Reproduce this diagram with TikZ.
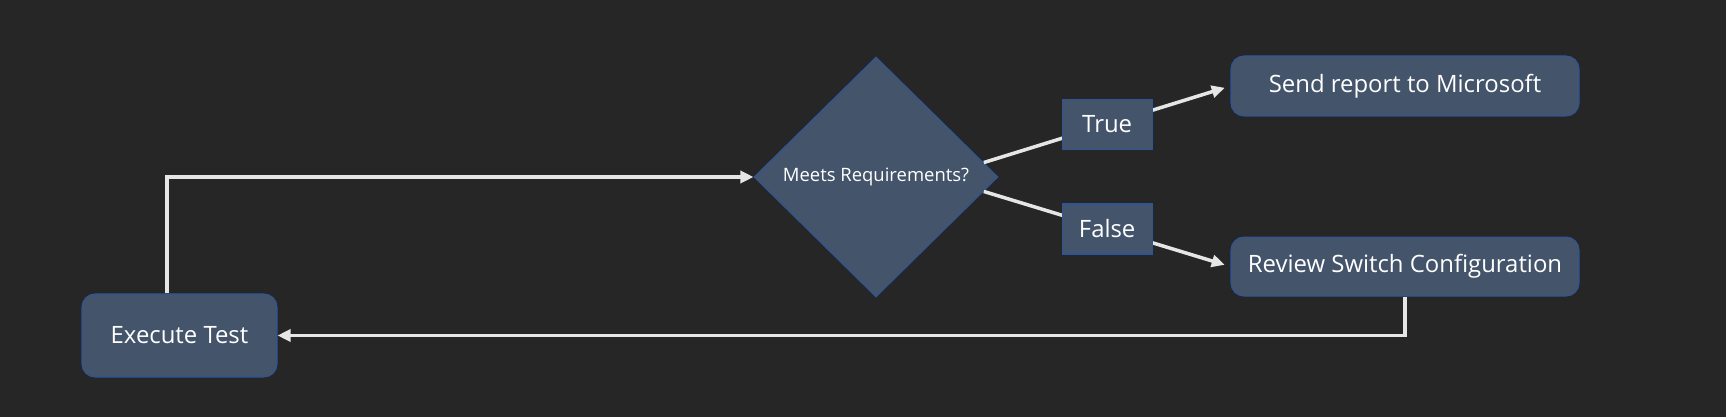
\documentclass[tikz,border=0pt]{standalone}
\usepackage{fontspec}
\setmainfont{Open Sans}
\definecolor{bgdark}{RGB}{38,38,38}
\definecolor{boxfill}{RGB}{68,84,106}
\definecolor{boxedge}{RGB}{47,85,151}
\definecolor{flowline}{RGB}{231,230,230}
\usetikzlibrary{calc}
\usetikzlibrary{positioning}
\usetikzlibrary{shapes.geometric}
\usetikzlibrary{arrows.meta}
\tikzset{
  stepbox/.style={rectangle, rounded corners=0.26cm, fill=boxfill, draw=boxedge, line width=0.6pt,
    text=white, font=\fontsize{13.6}{16}\selectfont, minimum height=1.2cm, inner sep=0pt},
  labelbox/.style={rectangle, fill=boxfill, draw=boxedge, line width=0.6pt,
    text=white, font=\fontsize{13.6}{16}\selectfont, minimum width=1.8cm, minimum height=1cm, inner sep=0pt},
  decision/.style={diamond, fill=boxfill, draw=boxedge, line width=0.6pt, text=white,
    font=\fontsize{10.5}{12}\selectfont, minimum width=4.88cm, minimum height=4.8cm, inner sep=0pt},
  flow/.style={draw=flowline, line width=2pt, -{Triangle[length=0.26cm, width=0.24cm]}},
}

\begin{document}
\begin{tikzpicture}
  % background and page size
  \fill [bgdark] (0,0) rectangle (34.52,8.34);
  \useasboundingbox (0,0) rectangle (34.52,8.34);

  % boxes
  \node [stepbox, minimum width=3.9cm, minimum height=1.66cm] (exec) at (3.59,1.63) {Execute Test};
  \node [decision] (check) at (17.52,4.8) {Meets Requirements?};
  \node [stepbox, minimum width=6.96cm] (report) at (28.1,6.62) {Send report to Microsoft};
  \node [stepbox, minimum width=6.96cm, minimum height=1.18cm, below=2.4cm of report] (review) {Review Switch Configuration};

  % connectors
  \draw [flow] ([xshift=-0.25cm]exec.north) |- (check.west);
  \draw [flow, shorten >=0.12cm] ($(check.east)!0.12!(check.north)$) -- node [labelbox, pos=0.5] (true) {True} (report.west);
  \draw [flow, shorten >=0.12cm] ($(check.east)!0.12!(check.south)$) -- node [labelbox, pos=0.5] (false) {False} (review.west);
  \draw [flow] (review.south) |- (exec.east);

\end{tikzpicture}
\end{document}
